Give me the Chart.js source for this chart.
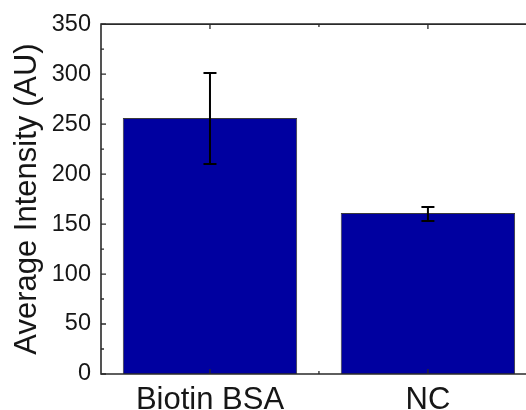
<!DOCTYPE html>
<html>
<head>
<meta charset="utf-8">
<script src="https://cdn.jsdelivr.net/npm/chart.js@4/dist/chart.umd.min.js"></script>
<style>
  html, body { margin: 0; padding: 0; background: #fff; overflow: hidden; }
  canvas { display: block; }
</style>
</head>
<body>
<canvas id="chart" width="526" height="410"></canvas>
<script>
const categories = ["Biotin BSA", "NC"];
const intensity = [256, 161];
const errLow = [210, 153];
const errHigh = [301, 167];
const yMin = 0, yMax = 350, yStep = 50;
// x runs by category index; the right end of the frame is cut off by the image edge
const xMin = -0.5, xMax = 1.45;

const ink = "#161616";
const fontFamily = "'Liberation Sans', Arial, sans-serif";

// error bars + inward ticks + frame, all placed through the scales
const decorations = {
  id: "decorations",
  afterDatasetsDraw(chart) {
    const ctx = chart.ctx;
    const x = chart.scales.x, y = chart.scales.y;
    const area = chart.chartArea;
    ctx.save();

    // error bars
    ctx.strokeStyle = "#000";
    ctx.lineWidth = 2;
    categories.forEach((c, i) => {
      const cx = x.getPixelForValue(i);
      const top = y.getPixelForValue(errHigh[i]);
      const bot = y.getPixelForValue(errLow[i]);
      ctx.beginPath();
      ctx.moveTo(cx, top); ctx.lineTo(cx, bot);
      ctx.moveTo(cx - 6.5, top); ctx.lineTo(cx + 6.5, top);
      ctx.moveTo(cx - 6.5, bot); ctx.lineTo(cx + 6.5, bot);
      ctx.stroke();
    });

    // frame
    ctx.strokeStyle = "#2a2a2a";
    ctx.lineWidth = 1.6;
    ctx.beginPath();
    ctx.moveTo(area.right, area.top); ctx.lineTo(area.left, area.top);
    ctx.lineTo(area.left, area.bottom); ctx.lineTo(area.right, area.bottom);
    ctx.stroke();

    // y ticks (major every step, minor halfway), pointing inward
    ctx.lineWidth = 1.3;
    ctx.beginPath();
    for (let v = yMin; v <= yMax; v += yStep / 2) {
      const py = y.getPixelForValue(v);
      const len = (v % yStep === 0) ? 5 : 3;
      ctx.moveTo(area.left, py); ctx.lineTo(area.left + len, py);
    }
    // x ticks: major at category centres, minor between them, bottom and top
    for (let i = 0; i < categories.length; i++) {
      const px = x.getPixelForValue(i);
      ctx.moveTo(px, area.bottom); ctx.lineTo(px, area.bottom - 5);
      ctx.moveTo(px, area.top); ctx.lineTo(px, area.top + 5);
      if (i < categories.length - 1) {
        const mx = x.getPixelForValue(i + 0.5);
        ctx.moveTo(mx, area.bottom); ctx.lineTo(mx, area.bottom - 3);
        ctx.moveTo(mx, area.top); ctx.lineTo(mx, area.top + 3);
      }
    }
    ctx.stroke();
    ctx.restore();
  }
};

new Chart(document.getElementById("chart").getContext("2d"), {
  type: "bar",
  data: {
    datasets: [{
      label: "Average Intensity",
      data: intensity.map((v, i) => ({ x: i, y: v })),
      backgroundColor: "#0000a0",
      borderColor: "#3a3a3a",
      borderWidth: 1,
      categoryPercentage: 0.8,
      barPercentage: 1.0
    }]
  },
  options: {
    responsive: false,
    animation: false,
    devicePixelRatio: 1,
    layout: { padding: { left: 0, top: 24, right: 0, bottom: 0 } },
    plugins: {
      legend: { display: false },
      tooltip: { enabled: false }
    },
    scales: {
      x: {
        type: "linear",
        min: xMin,
        max: xMax,
        offset: false,
        grid: { display: false, drawTicks: false },
        border: { display: false },
        afterBuildTicks(scale) {
          scale.ticks = categories.map((c, i) => ({ value: i }));
        },
        ticks: {
          color: ink,
          padding: 8,
          autoSkip: false,
          maxRotation: 0,
          callback: (v) => categories[v],
          font: { family: fontFamily, size: 31 }
        },
        afterFit(scale) { scale.height = 36; }
      },
      y: {
        min: yMin,
        max: yMax,
        grid: { display: false, drawTicks: false },
        border: { display: false },
        ticks: {
          stepSize: yStep,
          color: ink,
          padding: 10,
          font: { family: fontFamily, size: 23.5 }
        },
        title: {
          display: true,
          text: "Average Intensity (AU)",
          color: ink,
          padding: { top: 9, bottom: 0 },
          font: { family: fontFamily, size: 31 }
        },
        afterFit(scale) { scale.width = 101; }
      }
    }
  },
  plugins: [decorations]
});
</script>
</body>
</html>
